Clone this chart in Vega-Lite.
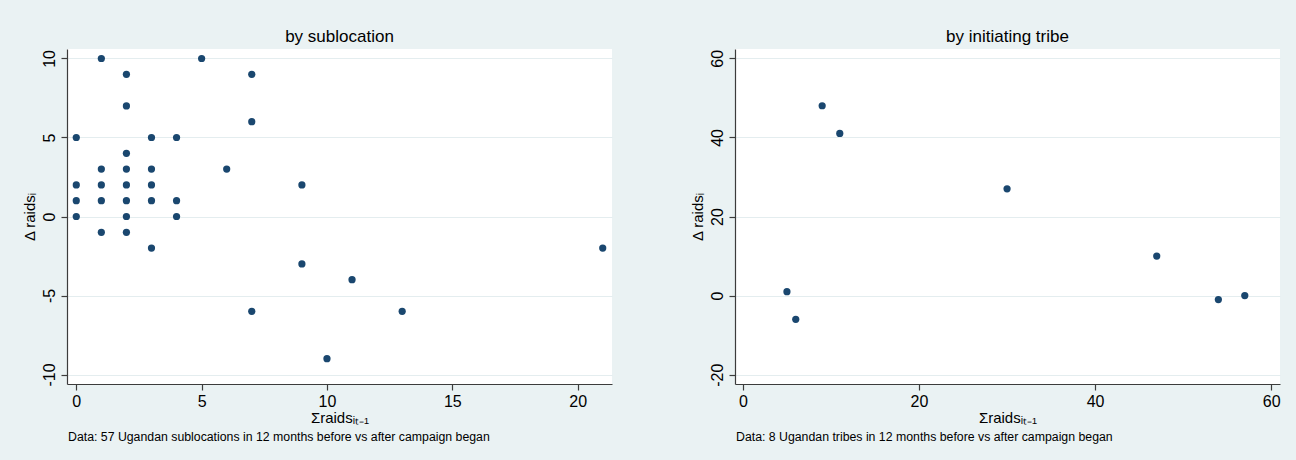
{
  "$schema": "https://vega.github.io/schema/vega-lite/v6.json",
  "background": "#EAF2F3",
  "padding": {"left": 21, "top": 28, "right": 21, "bottom": 27},
  "config": {
    "font": "Liberation Sans Narrow, Liberation Sans, Arial, sans-serif",
    "view": {"fill": "white", "stroke": null},
    "concat": {"spacing": 77},
    "axis": {
      "labelFontSize": 16,
      "labelColor": "#000000",
      "labelExpr": "toString(datum.value)",
      "titleFontSize": 15,
      "titleFontWeight": "normal",
      "titleColor": "#000000",
      "domainColor": "#3c3c3c",
      "domainWidth": 1.2,
      "tickColor": "#3c3c3c",
      "tickSize": 6,
      "tickWidth": 1.2
    },
    "axisX": {"grid": false, "labelPadding": 3, "titlePadding": 1},
    "axisY": {
      "grid": true,
      "gridColor": "#E4EDEF",
      "gridWidth": 1,
      "labelAngle": 270,
      "labelAlign": "center",
      "labelBaseline": "alphabetic",
      "labelPadding": 7,
      "titlePadding": 4
    },
    "title": {"fontSize": 17, "fontWeight": "normal", "color": "#000000"}
  },
  "datasets": {
    "sub": [
      {"prior": 0, "change": 5}, {"prior": 0, "change": 2}, {"prior": 0, "change": 1}, {"prior": 0, "change": 0},
      {"prior": 1, "change": 10}, {"prior": 1, "change": 3}, {"prior": 1, "change": 2}, {"prior": 1, "change": 1}, {"prior": 1, "change": -1},
      {"prior": 2, "change": 9}, {"prior": 2, "change": 7}, {"prior": 2, "change": 4}, {"prior": 2, "change": 3}, {"prior": 2, "change": 2}, {"prior": 2, "change": 1}, {"prior": 2, "change": 0}, {"prior": 2, "change": -1},
      {"prior": 3, "change": 5}, {"prior": 3, "change": 3}, {"prior": 3, "change": 2}, {"prior": 3, "change": 1}, {"prior": 3, "change": -2},
      {"prior": 4, "change": 5}, {"prior": 4, "change": 1}, {"prior": 4, "change": 0},
      {"prior": 5, "change": 10}, {"prior": 6, "change": 3},
      {"prior": 7, "change": 9}, {"prior": 7, "change": 6}, {"prior": 7, "change": -6},
      {"prior": 9, "change": 2}, {"prior": 9, "change": -3},
      {"prior": 10, "change": -9}, {"prior": 11, "change": -4}, {"prior": 13, "change": -6}, {"prior": 21, "change": -2}
    ],
    "tribe": [
      {"prior": 5, "change": 1}, {"prior": 6, "change": -6}, {"prior": 9, "change": 48}, {"prior": 11, "change": 41},
      {"prior": 30, "change": 27}, {"prior": 47, "change": 10}, {"prior": 54, "change": -1}, {"prior": 57, "change": 0}
    ]
  },
  "hconcat": [
    {
      "title": {"text": "Data: 57 Ugandan sublocations in 12 months before vs after campaign began", "orient": "bottom", "anchor": "start", "fontSize": 12.3, "dx": 46, "offset": 6},
      "vconcat": [
        {
          "title": {"text": "by sublocation", "frame": "group", "offset": 3},
          "width": 545,
          "height": 335,
          "data": {"name": "sub"},
          "mark": {"type": "circle", "size": 52, "opacity": 1, "color": "#1a476f"},
          "encoding": {
            "x": {"field": "prior", "type": "quantitative", "scale": {"domain": [-0.37, 21.37], "nice": false, "zero": false}, "axis": {"values": [0, 5, 10, 15, 20], "title": "Σraidsᵢₜ₋₁"}},
            "y": {"field": "change", "type": "quantitative", "scale": {"domain": [-10.6, 10.6], "nice": false, "zero": false}, "axis": {"values": [-10, -5, 0, 5, 10], "title": "Δ raidsᵢ"}}
          }
        }
      ]
    },
    {
      "title": {"text": "Data: 8 Ugandan tribes in 12 months before vs after campaign began", "orient": "bottom", "anchor": "start", "fontSize": 12.3, "dx": 46, "offset": 6},
      "vconcat": [
        {
          "title": {"text": "by initiating tribe", "frame": "group", "offset": 3},
          "width": 545,
          "height": 335,
          "data": {"name": "tribe"},
          "mark": {"type": "circle", "size": 52, "opacity": 1, "color": "#1a476f"},
          "encoding": {
            "x": {"field": "prior", "type": "quantitative", "scale": {"domain": [-0.9, 61.0], "nice": false, "zero": false}, "axis": {"values": [0, 20, 40, 60], "title": "Σraidsᵢₜ₋₁"}},
            "y": {"field": "change", "type": "quantitative", "scale": {"domain": [-22.35, 62.35], "nice": false, "zero": false}, "axis": {"values": [-20, 0, 20, 40, 60], "title": "Δ raidsᵢ"}}
          }
        }
      ]
    }
  ]
}
